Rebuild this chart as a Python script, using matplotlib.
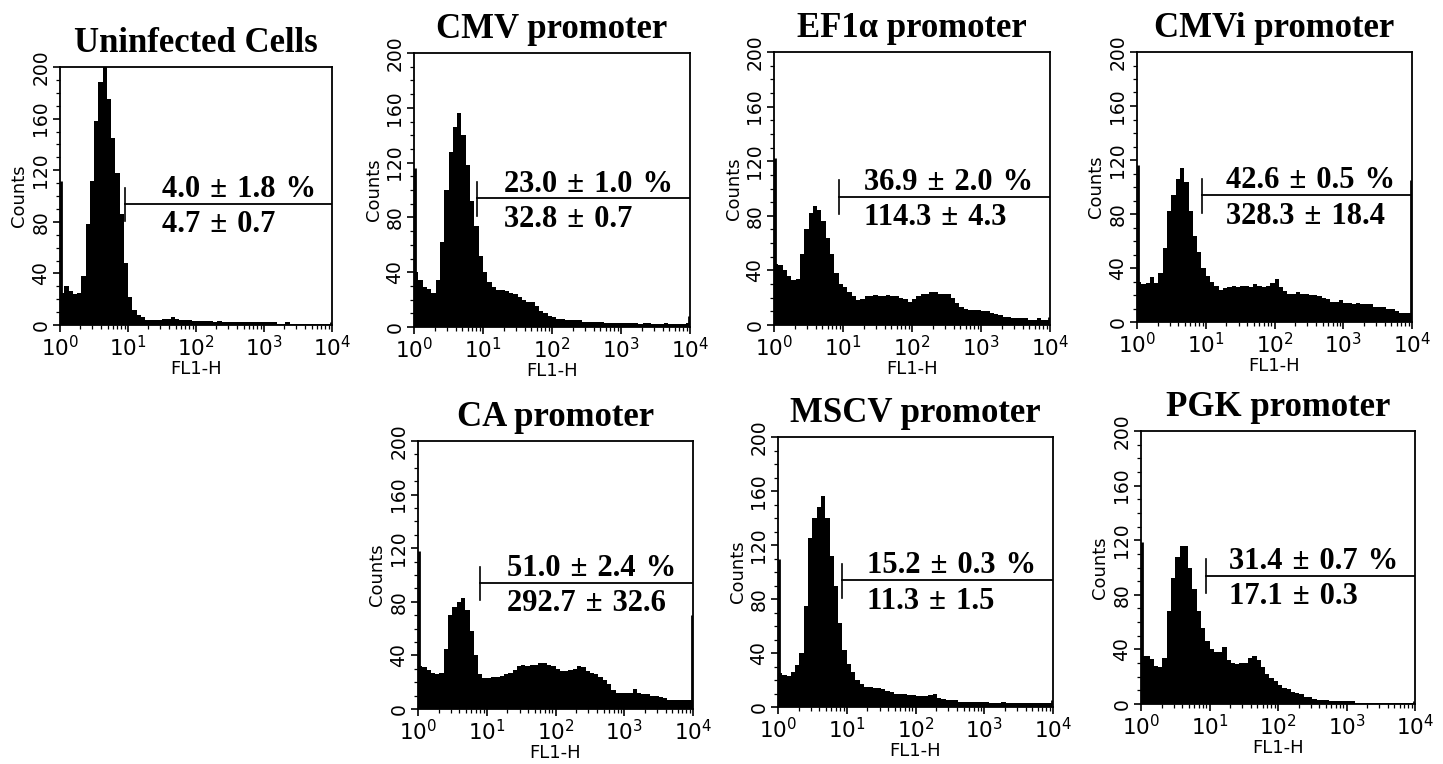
import numpy as np
import matplotlib.pyplot as plt
from matplotlib.ticker import FixedLocator, LogLocator, MultipleLocator, NullFormatter

W, H = 1443, 764

# FL1 channels: 16 per decade from 10^0 to 10^4
edges = np.logspace(0, 4, 65)

titles = ['Uninfected Cells', 'CMV promoter', 'EF1\u03b1 promoter', 'CMVi promoter',
          'CA promoter', 'MSCV promoter', 'PGK promoter']
pct_text = ['4.0 \u00b1 1.8 %', '23.0 \u00b1 1.0 %', '36.9 \u00b1 2.0 %', '42.6 \u00b1 0.5 %',
            '51.0 \u00b1 2.4 %', '15.2 \u00b1 0.3 %', '31.4 \u00b1 0.7 %']
mfi_text = ['4.7 \u00b1 0.7', '32.8 \u00b1 0.7', '114.3 \u00b1 4.3', '328.3 \u00b1 18.4',
            '292.7 \u00b1 32.6', '11.3 \u00b1 1.5', '17.1 \u00b1 0.3']

# marker gate (FL1 value where the M1 region starts)
gate_x = [9.0, 8.3, 8.7, 8.8, 8.0, 8.5, 8.9]

# counts per channel
uninfected = [25, 30, 26, 24, 25, 38, 78, 112, 158, 188, 200, 175, 145, 118, 86, 48,
              22, 12, 8, 6, 4, 4, 4, 4, 5, 5, 6, 5, 4, 4, 4, 3,
              3, 3, 3, 3, 2, 3, 2, 2, 2, 2, 2, 2, 2, 2, 2, 2,
              2, 2, 2, 1, 1, 2, 1, 1, 1, 1, 1, 1, 1, 1, 1, 1]
cmv = [40, 34, 29, 28, 25, 34, 62, 100, 128, 146, 156, 140, 118, 92, 74, 52,
       40, 33, 29, 27, 27, 26, 25, 24, 22, 20, 18, 18, 15, 12, 10, 8,
       7, 6, 6, 5, 5, 5, 5, 4, 4, 4, 4, 4, 3, 3, 3, 3,
       3, 3, 3, 3, 2, 3, 3, 2, 2, 2, 3, 2, 2, 2, 2, 3]
ef1a = [45, 44, 40, 36, 33, 34, 52, 70, 82, 87, 84, 76, 64, 52, 38, 30,
        28, 24, 21, 18, 19, 21, 21, 22, 21, 21, 22, 21, 21, 20, 19, 17,
        19, 21, 23, 23, 24, 24, 23, 23, 23, 20, 16, 13, 12, 11, 11, 11,
        10, 10, 9, 8, 7, 6, 6, 5, 5, 5, 5, 4, 4, 5, 4, 4]
cmvi = [30, 28, 29, 33, 29, 36, 55, 82, 94, 106, 114, 104, 82, 64, 52, 40,
        34, 30, 27, 24, 25, 26, 27, 26, 27, 27, 26, 28, 27, 26, 27, 29,
        32, 26, 23, 21, 21, 22, 21, 21, 20, 20, 19, 18, 17, 15, 15, 16,
        14, 14, 13, 14, 13, 13, 13, 11, 11, 11, 10, 10, 8, 7, 7, 7]
ca = [32, 31, 29, 27, 26, 27, 45, 70, 76, 80, 83, 74, 58, 40, 26, 23,
      23, 24, 24, 25, 26, 27, 29, 32, 33, 32, 33, 33, 34, 34, 33, 32,
      30, 28, 28, 29, 30, 32, 31, 28, 27, 26, 24, 22, 19, 14, 12, 12,
      12, 12, 15, 12, 11, 11, 10, 10, 9, 8, 7, 7, 7, 7, 7, 7]
mscv = [25, 24, 23, 26, 31, 40, 75, 125, 140, 148, 156, 140, 112, 90, 62, 42,
        32, 26, 20, 17, 15, 15, 14, 14, 13, 12, 11, 10, 10, 10, 9, 9,
        8, 8, 8, 9, 10, 7, 6, 5, 5, 5, 4, 4, 4, 4, 4, 4,
        4, 3, 3, 3, 4, 3, 3, 3, 3, 3, 3, 3, 3, 3, 3, 3]
pgk = [35, 35, 33, 28, 27, 34, 68, 92, 108, 116, 116, 100, 84, 68, 56, 46,
       40, 38, 38, 42, 32, 30, 29, 30, 30, 34, 35, 32, 27, 22, 19, 17,
       14, 12, 11, 9, 8, 7, 5, 5, 4, 3, 3, 3, 2, 2, 2, 2,
       2, 2, 1, 1, 1, 1, 1, 1, 1, 1, 1, 1, 1, 1, 1, 1]
histos = [uninfected, cmv, ef1a, cmvi, ca, mscv, pgk]

# first / last channel pile-up
edge_lo = [112, 116, 122, 116, 118, 110, 119]
edge_hi = [2, 8, 6, 105, 70, 5, 2]

# panel boxes in pixels: left, top, right, bottom
boxes = [(60, 67, 332, 325), (414, 53, 690, 327), (774, 52, 1050, 325), (1137, 52, 1412, 322),
         (418, 441, 693, 709), (778, 437, 1053, 707), (1141, 431, 1415, 704)]

serif = ['Liberation Serif', 'DejaVu Serif']

fig = plt.figure(figsize=(W / 100, H / 100), dpi=100)

for i in range(7):
    l, t, r, b = boxes[i]
    ax = fig.add_axes([l / W, 1 - b / H, (r - l) / W, (b - t) / H])
    ax.stairs(histos[i], edges, fill=True, color='black', lw=0)
    ax.vlines(1.03, 0, edge_lo[i], color='black', lw=2)
    ax.vlines(9700, 0, edge_hi[i], color='black', lw=2)

    gx = gate_x[i]
    ax.plot([gx, gx], [81, 106], color='black', lw=1.2)
    ax.plot([gx, 1e4], [94, 94], color='black', lw=1.3)
    label = (pct_text[i] + '\n' + mfi_text[i]).replace(' ', '\u2004')
    ax.text(0.94, 91.5, label, transform=ax.get_yaxis_transform(),
            ha='right', va='center', multialignment='left', fontsize=22,
            family=serif, fontweight='bold', linespacing=1.28)

    ax.set_xscale('log')
    ax.set_xlim(1, 1e4)
    ax.set_ylim(0, 200)
    ax.xaxis.set_major_locator(FixedLocator([1, 10, 100, 1000, 10000]))
    ax.set_xticklabels([r'$\mathregular{10^{%d}}$' % k for k in range(5)], fontsize=15.5)
    ax.xaxis.set_minor_locator(LogLocator(base=10, subs=np.arange(2, 10)))
    ax.xaxis.set_minor_formatter(NullFormatter())
    ax.yaxis.set_major_locator(MultipleLocator(40))
    ax.yaxis.set_minor_locator(MultipleLocator(10))
    for lab in ax.get_yticklabels():
        lab.set_rotation(90)
        lab.set_va('center')
        lab.set_fontsize(13.5)
    ax.tick_params(which='major', direction='out', length=5, width=1.2, pad=2)
    ax.tick_params(which='minor', direction='out', length=3, width=0.9)
    for s in ax.spines.values():
        s.set_linewidth(1.3)

    ax.set_xlabel('FL1-H', fontsize=13, labelpad=0)
    ax.set_ylabel('Counts', fontsize=13, labelpad=2)
    ax.set_title(titles[i], fontsize=25, family=serif, fontweight='bold', pad=11)

fig.savefig('out.png', dpi=100)
